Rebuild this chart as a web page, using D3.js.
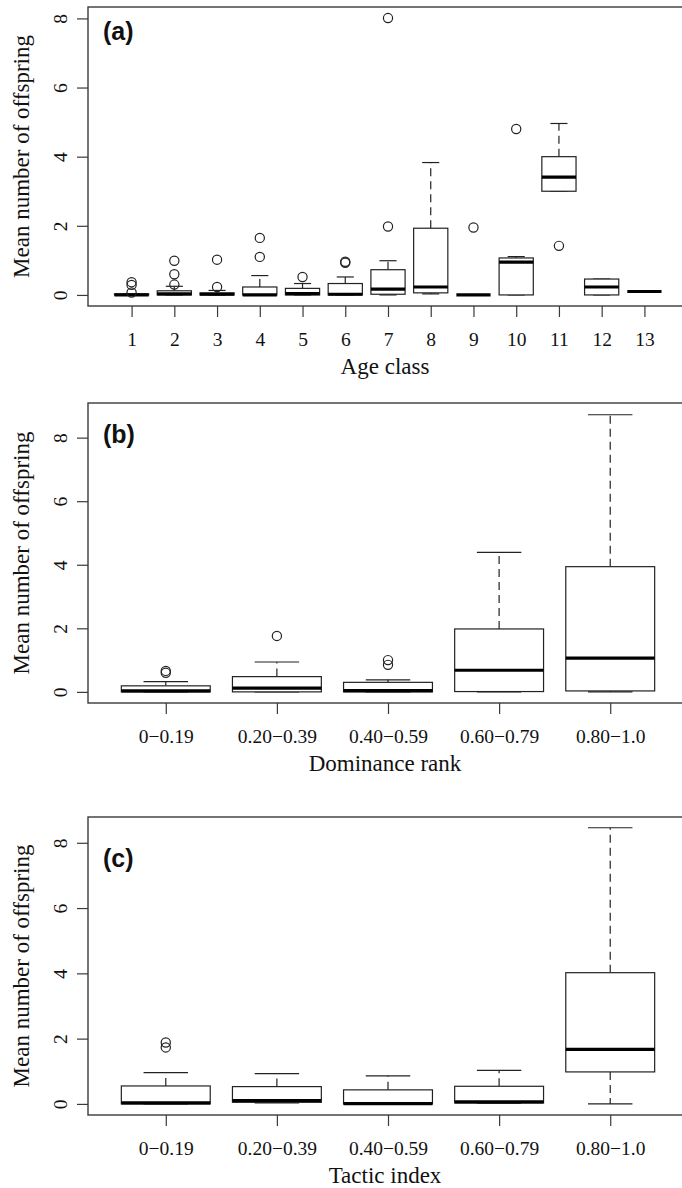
<!DOCTYPE html>
<html lang="en">
<head>
    <meta charset="UTF-8">
    <title>Mean number of offspring</title>
    <script src="https://d3js.org/d3.v7.min.js"></script>
    <style>
        body {
            margin: 0;
            background-color: #ffffff;
        }

        svg {
            display: block;
        }

        .frame {
            fill: none;
            stroke: #3a3a3a;
            stroke-width: 1.4px;
        }

        .axis path {
            display: none;
        }

        .axis line {
            stroke: #3a3a3a;
            stroke-width: 1.2px;
        }

        .axis text {
            font-family: "Liberation Serif", "Times New Roman", serif;
            font-size: 19.5px;
            fill: #111;
        }

        .axis-title {
            font-family: "Liberation Serif", "Times New Roman", serif;
            font-size: 23px;
            fill: #111;
        }

        .tag {
            font-family: "Liberation Sans", Arial, sans-serif;
            font-weight: bold;
            font-size: 25px;
            fill: #111;
        }

        .box {
            fill: #ffffff;
            stroke: #222;
            stroke-width: 1.2px;
        }

        .median {
            stroke: #000;
            stroke-width: 3.2px;
        }

        .whisker {
            stroke: #222;
            stroke-width: 1.2px;
            stroke-dasharray: 8, 5;
        }

        .staple {
            stroke: #222;
            stroke-width: 1.2px;
        }

        .outlier {
            fill: none;
            stroke: #222;
            stroke-width: 1.2px;
        }
    </style>
</head>
<body>
<svg width="682" height="1188"></svg>
<script>
    // (a) Age class
    const ageClasses = ["1", "2", "3", "4", "5", "6", "7", "8", "9", "10", "11", "12", "13"];
    const ageLow  = [0, 0, 0, 0, 0, 0, 0, 0.03, 0, 0, 3.0, 0, 0.1];
    const ageQ1   = [0, 0, 0, 0, 0, 0, 0.02, 0.06, 0, 0, 3.0, 0, 0.1];
    const ageMed  = [0, 0.03, 0.02, 0, 0.04, 0.02, 0.17, 0.23, 0, 0.95, 3.41, 0.23, 0.1];
    const ageQ3   = [0.03, 0.12, 0.06, 0.23, 0.19, 0.33, 0.73, 1.93, 0, 1.07, 4.0, 0.46, 0.1];
    const ageHigh = [0.03, 0.25, 0.13, 0.56, 0.33, 0.52, 0.99, 3.83, 0, 1.11, 4.96, 0.46, 0.1];
    const ageOut  = [[0.37, 0.29, 0.07], [0.99, 0.6, 0.3], [1.02, 0.23], [1.65, 1.1], [0.52],
                     [0.93, 0.96], [8.01, 1.98], [], [1.95], [4.8], [1.42], [], []];

    // (b) Dominance rank
    const rankClasses = ["0\u22120.19", "0.20\u22120.39", "0.40\u22120.59", "0.60\u22120.79", "0.80\u22121.0"];
    const rankLow  = [0, 0, 0, 0, 0];
    const rankQ1   = [0, 0, 0, 0.01, 0.03];
    const rankMed  = [0.03, 0.12, 0.04, 0.68, 1.06];
    const rankQ3   = [0.19, 0.48, 0.3, 1.98, 3.94];
    const rankHigh = [0.32, 0.94, 0.38, 4.39, 8.72];
    const rankOut  = [[0.66, 0.6], [1.76], [1.0, 0.85], [], []];

    // (c) Tactic index
    const tacticClasses = ["0\u22120.19", "0.20\u22120.39", "0.40\u22120.59", "0.60\u22120.79", "0.80\u22121.0"];
    const tacticLow  = [0, 0.03, 0, 0.02, 0];
    const tacticQ1   = [0, 0.05, 0, 0.03, 0.98];
    const tacticMed  = [0.03, 0.1, 0.01, 0.06, 1.67];
    const tacticQ3   = [0.55, 0.53, 0.43, 0.54, 4.02];
    const tacticHigh = [0.96, 0.93, 0.86, 1.03, 8.46];
    const tacticOut  = [[1.88, 1.73], [], [], [], []];

    const yTicks = [0, 2, 4, 6, 8];

    const panels = [
        {tag: "(a)", title: "Age class", labels: ageClasses, low: ageLow, q1: ageQ1, med: ageMed,
         q3: ageQ3, high: ageHigh, out: ageOut, top: 7, bottom: 306, yDom: [-0.32, 8.33], tagAt: 7.37},
        {tag: "(b)", title: "Dominance rank", labels: rankClasses, low: rankLow, q1: rankQ1, med: rankMed,
         q3: rankQ3, high: rankHigh, out: rankOut, top: 403, bottom: 703, yDom: [-0.35, 9.09], tagAt: 7.83},
        {tag: "(c)", title: "Tactic index", labels: tacticClasses, low: tacticLow, q1: tacticQ1, med: tacticMed,
         q3: tacticQ3, high: tacticHigh, out: tacticOut, top: 817, bottom: 1115, yDom: [-0.34, 8.79], tagAt: 7.27}
    ];

    const svg = d3.select("svg");
    const left = 88, right = 688;

    panels.forEach(p => {
        const n = p.labels.length;
        const ext = 0.04 * n;
        const x = d3.scaleLinear().domain([0.5 - ext, n + 0.5 + ext]).range([left, right]);
        const y = d3.scaleLinear().domain(p.yDom).range([p.bottom, p.top]);
        const g = svg.append("g");
        const half = x(1.4) - x(1);

        // frame
        g.append("rect")
            .attr("class", "frame")
            .attr("x", left)
            .attr("y", p.top)
            .attr("width", right - left)
            .attr("height", p.bottom - p.top);

        // y axis, labels parallel to axis like R
        const yAxis = g.append("g")
            .attr("class", "axis")
            .attr("transform", `translate(${left},0)`)
            .call(d3.axisLeft(y).tickValues(yTicks).tickSize(11).tickFormat(d3.format("d")));
        yAxis.selectAll("text")
            .attr("x", null)
            .attr("dy", null)
            .attr("text-anchor", "middle")
            .attr("transform", "translate(-21,0) rotate(-90)");

        // x axis
        const xAxis = g.append("g")
            .attr("class", "axis")
            .attr("transform", `translate(0,${p.bottom})`)
            .call(d3.axisBottom(x).tickValues(d3.range(1, n + 1)).tickSize(11)
                .tickFormat(i => p.labels[i - 1]));
        xAxis.selectAll("text")
            .attr("y", 40)
            .attr("dy", null);

        // titles
        g.append("text")
            .attr("class", "axis-title")
            .attr("x", (left + right) / 2 - 3)
            .attr("y", p.bottom + 68)
            .attr("text-anchor", "middle")
            .text(p.title);

        g.append("text")
            .attr("class", "axis-title")
            .attr("transform", `translate(29,${(p.top + p.bottom) / 2}) rotate(-90)`)
            .attr("text-anchor", "middle")
            .text("Mean number of offspring");

        g.append("text")
            .attr("class", "tag")
            .attr("x", left + 15)
            .attr("y", y(p.tagAt))
            .text(p.tag);

        // boxes
        d3.range(n).forEach(i => {
            const cx = x(i + 1);
            const bg = g.append("g");

            bg.append("line").attr("class", "whisker")
                .attr("x1", cx).attr("x2", cx)
                .attr("y1", y(p.q3[i])).attr("y2", y(p.high[i]));
            bg.append("line").attr("class", "whisker")
                .attr("x1", cx).attr("x2", cx)
                .attr("y1", y(p.q1[i])).attr("y2", y(p.low[i]));

            [p.low[i], p.high[i]].forEach(v => {
                bg.append("line").attr("class", "staple")
                    .attr("x1", cx - half / 2).attr("x2", cx + half / 2)
                    .attr("y1", y(v)).attr("y2", y(v));
            });

            bg.append("rect").attr("class", "box")
                .attr("x", cx - half)
                .attr("width", 2 * half)
                .attr("y", y(p.q3[i]))
                .attr("height", Math.max(0, y(p.q1[i]) - y(p.q3[i])));

            bg.append("line").attr("class", "median")
                .attr("x1", cx - half).attr("x2", cx + half)
                .attr("y1", y(p.med[i])).attr("y2", y(p.med[i]));

            bg.selectAll("circle")
                .data(p.out[i])
                .join("circle")
                .attr("class", "outlier")
                .attr("cx", cx)
                .attr("cy", d => y(d))
                .attr("r", 4.6);
        });
    });
</script>
</body>
</html>
